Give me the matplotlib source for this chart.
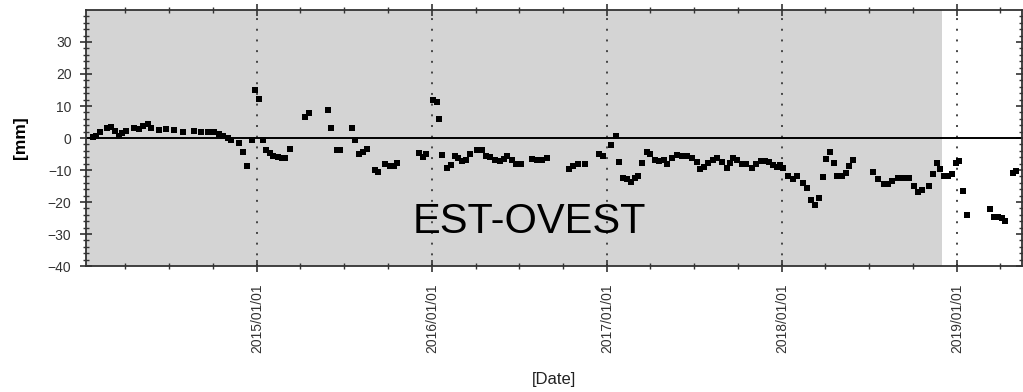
import numpy as np
import pandas as pd
import matplotlib
matplotlib.use("Agg")
import matplotlib.pyplot as plt
import matplotlib.dates as mdates

plt.rcParams['font.family'] = ['Liberation Sans', 'DejaVu Sans']

# time of each measurement (decimal year) and displacement [mm]
t_years = [
    2014.061, 2014.080, 2014.103, 2014.141, 2014.166, 2014.189, 2014.210, 2014.229,
    2014.251, 2014.297, 2014.324, 2014.349, 2014.375, 2014.394, 2014.440, 2014.480,
    2014.526, 2014.575, 2014.640, 2014.680, 2014.718, 2014.754, 2014.783, 2014.804,
    2014.833, 2014.851, 2014.897, 2014.918, 2014.943, 2014.970, 2014.989, 2015.011,
    2015.036, 2015.051, 2015.074, 2015.093, 2015.122, 2015.141, 2015.160, 2015.189,
    2015.274, 2015.299, 2015.407, 2015.423, 2015.455, 2015.474, 2015.541, 2015.560,
    2015.585, 2015.604, 2015.627, 2015.674, 2015.693, 2015.731, 2015.760, 2015.783,
    2015.798, 2015.927, 2015.950, 2015.966, 2016.007, 2016.027, 2016.042, 2016.057,
    2016.084, 2016.107, 2016.131, 2016.150, 2016.173, 2016.193, 2016.217, 2016.259,
    2016.284, 2016.309, 2016.331, 2016.360, 2016.389, 2016.411, 2016.430, 2016.455,
    2016.480, 2016.507, 2016.570, 2016.598, 2016.627, 2016.655, 2016.785, 2016.807,
    2016.836, 2016.874, 2016.956, 2016.979, 2017.021, 2017.051, 2017.070, 2017.093,
    2017.116, 2017.139, 2017.160, 2017.179, 2017.200, 2017.227, 2017.246, 2017.274,
    2017.299, 2017.326, 2017.345, 2017.370, 2017.398, 2017.427, 2017.455, 2017.484,
    2017.513, 2017.531, 2017.554, 2017.579, 2017.604, 2017.627, 2017.655, 2017.684,
    2017.703, 2017.722, 2017.741, 2017.770, 2017.794, 2017.827, 2017.851, 2017.878,
    2017.903, 2017.927, 2017.947, 2017.970, 2017.989, 2018.007, 2018.036, 2018.061,
    2018.084, 2018.122, 2018.145, 2018.164, 2018.189, 2018.210, 2018.233, 2018.251,
    2018.274, 2018.297, 2018.316, 2018.341, 2018.366, 2018.385, 2018.407, 2018.520,
    2018.550, 2018.583, 2018.607, 2018.627, 2018.665, 2018.693, 2018.727, 2018.754,
    2018.779, 2018.802, 2018.842, 2018.865, 2018.884, 2018.903, 2018.926, 2018.950,
    2018.971, 2018.994, 2019.013, 2019.036, 2019.059, 2019.189, 2019.211, 2019.236,
    2019.255, 2019.274, 2019.322, 2019.337,
]
disp_mm = [
    0.3, 0.5, 2.0, 3.0, 3.4, 2.2, 0.6, 1.7,
    2.2, 3.0, 2.9, 3.7, 4.5, 3.2, 2.6, 2.8,
    2.6, 1.8, 2.2, 2.0, 1.8, 2.0, 1.1, 0.5,
    0.1, -0.5, -1.5, -4.3, -8.7, -0.7, 15.1, 12.2,
    -0.7, -3.6, -4.7, -5.7, -5.9, -6.3, -6.2, -3.4,
    6.6, 7.9, 8.8, 3.2, -3.9, -3.9, 3.2, -0.7,
    -5.1, -4.5, -3.4, -10.1, -10.7, -8.2, -8.6, -8.6,
    -7.8, -4.7, -5.9, -4.9, 11.8, 11.3, 5.8, -5.3,
    -9.3, -8.4, -5.7, -6.3, -7.2, -6.8, -4.9, -3.7,
    -3.9, -5.7, -5.9, -6.8, -7.2, -6.6, -5.7, -7.0,
    -8.2, -8.0, -6.6, -6.8, -7.0, -6.3, -9.8, -8.7,
    -8.0, -8.2, -5.1, -5.6, -2.2, 0.7, -7.4, -12.4,
    -12.9, -13.8, -12.6, -11.9, -7.7, -4.3, -4.9, -7.0,
    -7.2, -7.0, -8.0, -6.3, -5.3, -5.6, -5.7, -6.3,
    -7.4, -9.8, -9.1, -7.7, -7.0, -6.3, -7.4, -9.3,
    -7.7, -6.2, -7.0, -8.2, -8.2, -9.3, -8.2, -7.2,
    -7.2, -7.4, -8.4, -9.1, -8.4, -9.3, -11.9, -12.9,
    -11.9, -14.0, -15.5, -19.3, -20.9, -18.8, -12.2, -6.7,
    -4.3, -7.7, -11.9, -11.9, -10.8, -8.7, -7.0, -10.5,
    -12.9, -14.5, -14.5, -13.4, -12.6, -12.4, -12.6, -15.1,
    -16.8, -16.2, -15.0, -11.4, -7.7, -9.8, -11.9, -11.9,
    -11.2, -7.7, -7.2, -16.6, -24.2, -22.3, -24.7, -24.7,
    -24.9, -25.9, -10.8, -10.3,
]

x_start, x_end = 2014.023, 2019.371
band_end = 2018.914
years = [2015, 2016, 2017, 2018, 2019]


def to_date(yr):
    yr = np.asarray(yr, dtype=float)
    return pd.Timestamp('2015-01-01') + pd.to_timedelta((yr - 2015) * 365.25, unit='D')


dates = to_date(t_years)

fig = plt.figure(figsize=(10.23, 3.92), dpi=100)
ax = fig.add_axes([0.0841, 0.3214, 0.9149, 0.6531])

ax.axvspan(to_date(x_start), to_date(band_end), color='#d4d4d4', lw=0, zorder=0)
for y in years:
    ax.axvline(pd.Timestamp(f'{y}-01-01'), color='#444444', lw=1.4,
               ls=(0, (1, 4.5)), zorder=1)
ax.axhline(0, color='black', lw=1.4, zorder=2)

ax.plot(dates, disp_mm, 's', color='black', ms=3.8, mew=0, zorder=3)

ax.set_xlim(to_date(x_start), to_date(x_end))
ax.set_ylim(-40, 40)

ax.set_yticks(np.arange(-40, 31, 10))
ax.set_yticks(np.arange(-40, 40, 2), minor=True)
ax.xaxis.set_major_locator(mdates.YearLocator())
ax.xaxis.set_minor_locator(mdates.MonthLocator(bymonth=[4, 7, 10]))
ax.xaxis.set_major_formatter(mdates.DateFormatter('%Y/%m/%d'))

ax.tick_params(axis='both', which='major', direction='inout', length=9, width=1.2,
               color='#333333', labelcolor='#333333', labelsize=10)
ax.tick_params(axis='both', which='minor', direction='inout', length=5, width=1.0,
               color='#333333')
ax.tick_params(axis='y', which='both', right=True)
ax.tick_params(axis='y', which='major', pad=6)
ax.tick_params(axis='x', which='both', top=True)
ax.tick_params(axis='x', which='major', labelrotation=90, pad=8)

for s in ax.spines.values():
    s.set_color('#333333')
    s.set_linewidth(1.3)

ax.set_ylabel('[mm]', fontsize=12.5, fontweight='bold', labelpad=14)
ax.set_xlabel('[Date]', fontsize=12, labelpad=14, color='#222222')

ax.text(0.474, 0.129, 'EST-OVEST', transform=ax.transAxes, fontsize=30,
        ha='center', va='baseline', color='black', zorder=4)

fig.savefig('out.png', dpi=100)
